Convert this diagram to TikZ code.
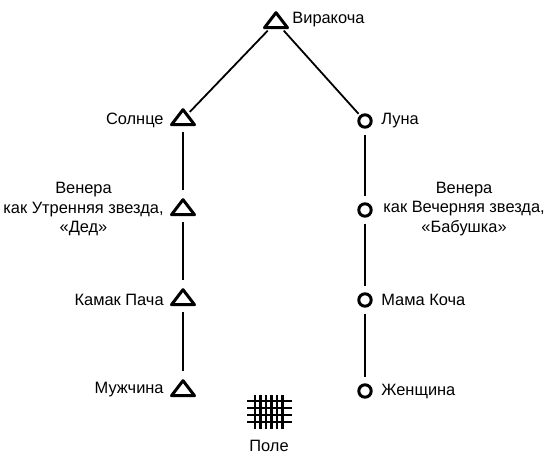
\documentclass[tikz,border=0pt]{standalone}
\usepackage{fontspec}
\setmainfont{Liberation Sans}
\usetikzlibrary{shapes.geometric}

\begin{document}
\begin{tikzpicture}[x=0.5pt,y=-0.5pt,
  tri/.style={draw, line width=1.5pt, isosceles triangle, isosceles triangle stretches,
    shape border rotate=90, minimum width=11.5pt, minimum height=7.5pt, inner sep=0pt, line join=round},
  circ/.style={draw, line width=1.5pt, circle, minimum size=6.2pt, inner sep=0pt},
  lien/.style={line width=0.9pt, shorten <=3pt, shorten >=3pt},
  lienhaut/.style={line width=0.9pt, shorten <=1pt, shorten >=1pt},
  grille/.style={line width=1.3pt},
  txt/.style={font=\fontsize{8.2}{9.6}\selectfont, inner sep=0pt, align=center}]

  % Cadre
  \useasboundingbox (0,0) rectangle (546,461);

  % Viracocha
  \node[tri] (vira) at (276,22) {};
  \node[txt, right] (tVira) at (292,20) {Виракоча};

  % Branche gauche
  \node[tri] (soleil) at (183,119) {};
  \node[tri] (venusM) at (183,209) {};
  \node[tri] (kamak) at (183,299) {};
  \node[tri] (homme) at (183,390) {};
  \node[txt, left] (tSoleil) at (164,120) {Солнце};
  \node[txt, left] (tVenusM) at (164,209) {Венера\\как Утренняя звезда,\\«Дед»};
  \node[txt, left] (tKamak) at (164,300) {Камак Пача};
  \node[txt, left] (tHomme) at (164,390) {Мужчина};

  % Branche droite
  \node[circ] (lune) at (365,121) {};
  \node[circ] (venusF) at (365,210) {};
  \node[circ] (mama) at (365,300) {};
  \node[circ] (femme) at (365,391) {};
  \node[txt, right] (tLune) at (381,121) {Луна};
  \node[txt, right] (tVenusF) at (383,209) {Венера\\как Вечерняя звезда,\\«Бабушка»};
  \node[txt, right] (tMama) at (381,300) {Мама Коча};
  \node[txt, right] (tFemme) at (381,391) {Женщина};

  % Liens
  \draw[lienhaut] (vira) -- (soleil);
  \draw[lienhaut] (vira) -- (lune);
  \draw[lien] (soleil) -- (venusM);
  \draw[lien] (venusM) -- (kamak);
  \draw[lien] (kamak) -- (homme);
  \draw[lien] (lune) -- (venusF);
  \draw[lien] (venusF) -- (mama);
  \draw[lien] (mama) -- (femme);

  % Champ
  \foreach \i in {0,...,5}
    \draw[grille] (255+5.5*\i,395) -- (255+5.5*\i,429);
  \foreach \j in {0,...,3}
    \draw[grille] (247,401+7*\j) -- (292,401+7*\j);
  \node[txt] (tChamp) at (269,446) {Поле};

\end{tikzpicture}
\end{document}
